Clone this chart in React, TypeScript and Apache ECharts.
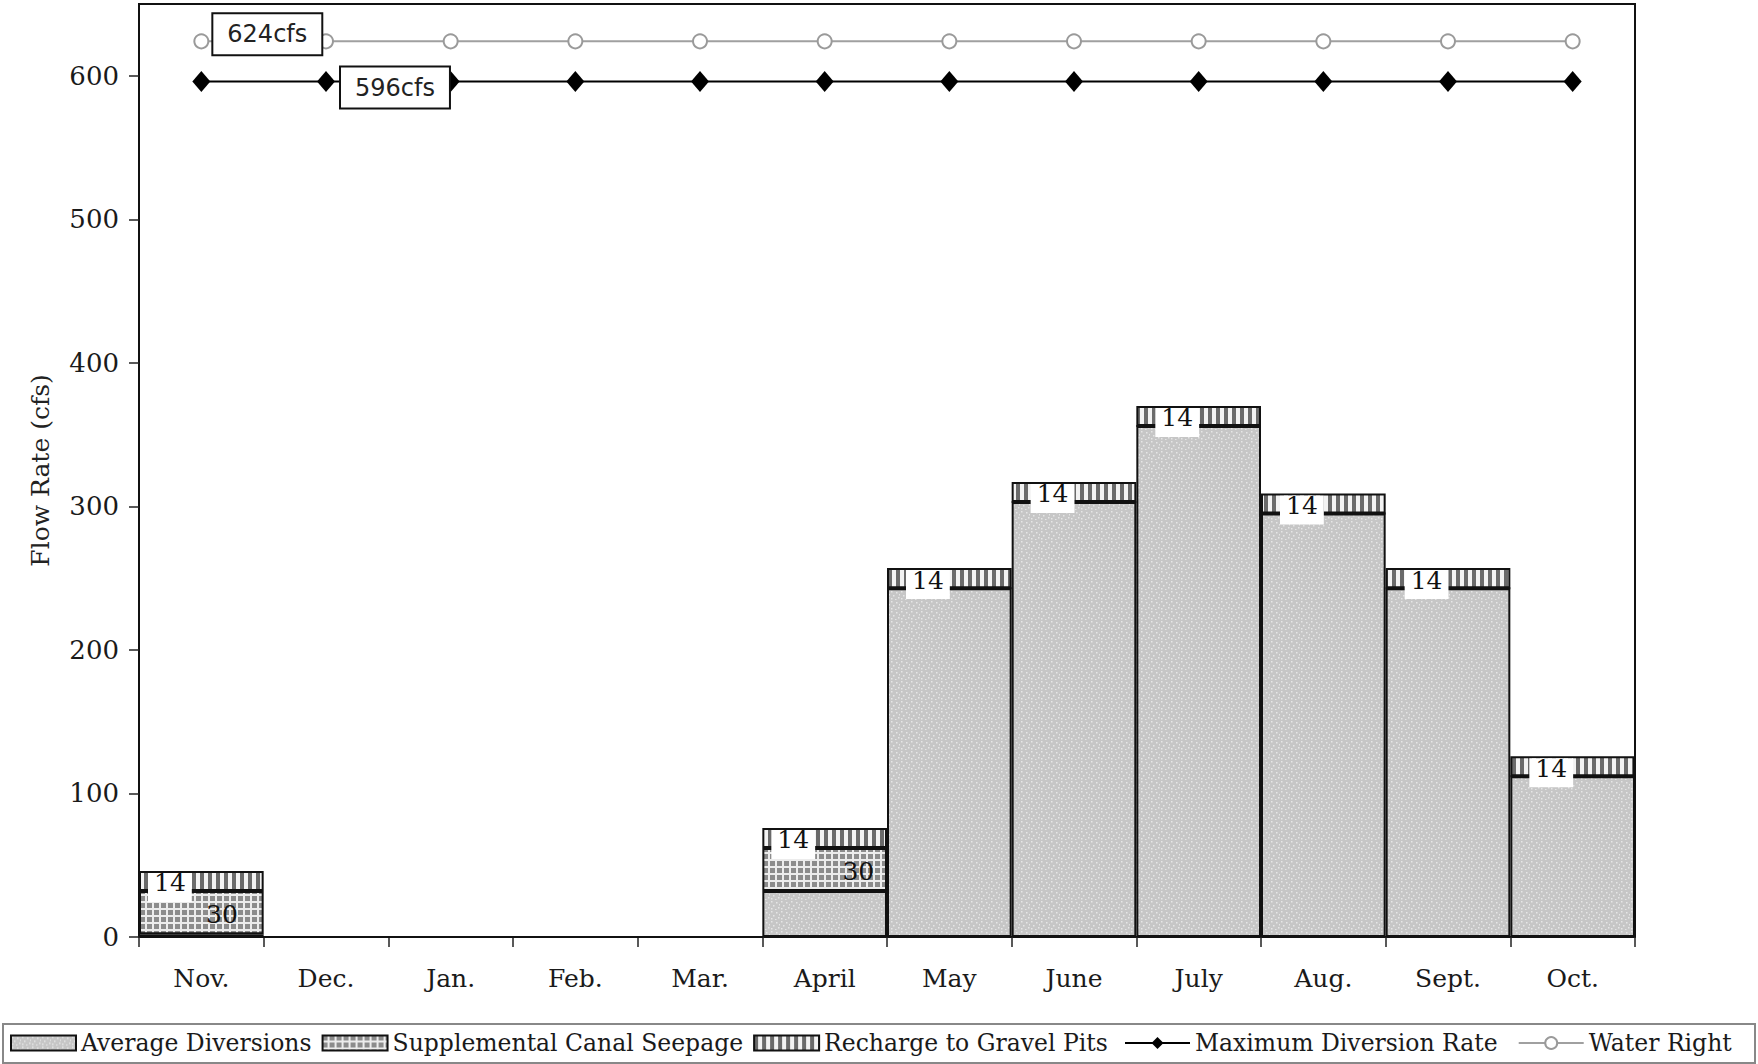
import React, { useEffect, useRef } from 'react';
import * as echarts from 'echarts';

const months = ['Nov.', 'Dec.', 'Jan.', 'Feb.', 'Mar.', 'April', 'May', 'June', 'July', 'Aug.', 'Sept.', 'Oct.'];
const averageDiversions = [2, 0, 0, 0, 0, 32, 243, 303, 356, 295, 243, 112];
const canalSeepage = [30, 0, 0, 0, 0, 30, 0, 0, 0, 0, 0, 0];
const gravelPitRecharge = [14, 0, 0, 0, 0, 14, 14, 14, 14, 14, 14, 14];
const maxDiversionRate = [596, 596, 596, 596, 596, 596, 596, 596, 596, 596, 596, 596];
const waterRight = [624, 624, 624, 624, 624, 624, 624, 624, 624, 624, 624, 624];
const yTicks = [0, 100, 200, 300, 400, 500, 600];

const SERIF = 'DejaVu Serif';
const SANS = 'DejaVu Sans';

function makePattern(w: number, h: number, draw: (ctx: CanvasRenderingContext2D) => void) {
  const c = document.createElement('canvas');
  c.width = w;
  c.height = h;
  const ctx = c.getContext('2d') as CanvasRenderingContext2D;
  draw(ctx);
  return { image: c, repeat: 'repeat', imageWidth: w, imageHeight: h };
}

export default function App() {
  const ref = useRef<HTMLDivElement>(null);

  useEffect(() => {
    if (!ref.current) return;
    const chart = echarts.init(ref.current, null, { renderer: 'svg' });

    const dotted = makePattern(10, 10, (ctx) => {
      ctx.fillStyle = '#c6c6c6';
      ctx.fillRect(0, 0, 10, 10);
      ctx.fillStyle = '#e6e6e6';
      const pts = [[1, 1], [6, 2], [3, 5], [8, 7], [1, 8], [5, 9], [9, 4]];
      pts.forEach(([x, y]) => ctx.fillRect(x, y, 1.5, 1.5));
    });
    const grid = makePattern(7, 7, (ctx) => {
      ctx.fillStyle = '#ececec';
      ctx.fillRect(0, 0, 7, 7);
      ctx.fillStyle = '#8c8c8c';
      ctx.fillRect(0, 0, 5, 5);
    });
    const stripes = makePattern(8, 4, (ctx) => {
      ctx.fillStyle = '#f2f2f2';
      ctx.fillRect(0, 0, 8, 4);
      ctx.fillStyle = '#6a6a6a';
      ctx.fillRect(0, 0, 4, 4);
    });

    const barBorder = { borderColor: '#111', borderWidth: 2 };
    const legendText = { fontFamily: SERIF, fontSize: 23.5, color: '#1a1a1a' };

    const option: any = {
      animation: false,
      backgroundColor: '#fff',
      grid: {
        left: 139, top: 4, width: 1496, height: 933,
        show: true, borderColor: '#111', borderWidth: 2, backgroundColor: 'transparent',
      },
      xAxis: {
        type: 'category',
        data: months,
        boundaryGap: true,
        axisLine: { lineStyle: { color: '#111', width: 2 } },
        axisTick: { show: true, length: 10, lineStyle: { color: '#222', width: 1.5 } },
        axisLabel: { fontFamily: SERIF, fontSize: 25, color: '#1a1a1a', margin: 29 },
        splitLine: { show: false },
      },
      yAxis: {
        type: 'value',
        min: 0,
        max: 650,
        name: 'Flow Rate (cfs)',
        nameLocation: 'middle',
        nameGap: 86,
        nameTextStyle: { fontFamily: SERIF, fontSize: 25, color: '#222' },
        axisLine: { show: true, lineStyle: { color: '#111', width: 2 } },
        axisTick: { show: true, length: 10, customValues: yTicks, lineStyle: { color: '#222', width: 1.5 } },
        axisLabel: { customValues: yTicks, fontFamily: SERIF, fontSize: 26, color: '#1a1a1a', margin: 20 },
        splitLine: { show: false },
      },
      legend: [
        {
          left: 10,
          top: 1031,
          padding: 0,
          itemWidth: 65,
          itemHeight: 15,
          itemGap: 10,
          textStyle: legendText,
          data: [
            { name: 'Average Diversions', icon: 'rect' },
            { name: 'Supplemental Canal Seepage', icon: 'rect' },
            { name: 'Recharge to Gravel Pits', icon: 'rect' },
          ],
        },
        {
          left: 1124,
          top: 1031,
          padding: 0,
          itemWidth: 65,
          itemHeight: 15,
          itemGap: 20,
          textStyle: legendText,
          data: ['Maximum Diversion Rate', 'Water Right'],
        },
      ],
      graphic: [
        {
          type: 'rect',
          shape: { x: 3, y: 1024, width: 1752, height: 39 },
          style: { fill: 'none', stroke: '#888', lineWidth: 2 },
          silent: true,
        },
      ],
      series: [
        {
          name: 'Average Diversions',
          type: 'bar',
          stack: 'flow',
          barCategoryGap: '0%',
          itemStyle: { color: dotted, ...barBorder },
          data: averageDiversions,
        },
        {
          name: 'Supplemental Canal Seepage',
          type: 'bar',
          stack: 'flow',
          barCategoryGap: '0%',
          itemStyle: { color: grid, ...barBorder },
          data: canalSeepage.map((v, i) => ({
            value: v,
            label: {
              show: v > 0,
              position: [i === 0 ? 83 : 96, 23],
              align: 'center',
              verticalAlign: 'middle',
              fontFamily: SERIF,
              fontSize: 25,
              color: '#111',
            },
          })),
        },
        {
          name: 'Recharge to Gravel Pits',
          type: 'bar',
          stack: 'flow',
          barCategoryGap: '0%',
          itemStyle: { color: stripes, ...barBorder },
          data: gravelPitRecharge.map((v, i) => ({
            value: v,
            label: {
              show: v > 0,
              position: [(canalSeepage[i] > 0 ? 31 : 41) - 22, 2],
              align: 'left',
              verticalAlign: 'top',
              fontFamily: SERIF,
              fontSize: 25,
              lineHeight: 20,
              color: '#111',
              backgroundColor: '#fff',
              padding: [0, 6, 9, 6],
            },
          })),
        },
        {
          name: 'Maximum Diversion Rate',
          type: 'line',
          symbol: 'diamond',
          symbolSize: [18, 21],
          itemStyle: { color: '#000' },
          lineStyle: { color: '#000', width: 2 },
          z: 5,
          data: maxDiversionRate.map((v, i) => (i === 1 ? {
            value: v,
            label: {
              show: true,
              position: 'right',
              distance: 6,
              offset: [0, 6],
              formatter: (p: any) => `${p.value}cfs`,
              fontFamily: SANS,
              fontSize: 24,
              lineHeight: 26,
              color: '#222',
              backgroundColor: '#fff',
              borderColor: '#111',
              borderWidth: 2,
              padding: [7, 14],
            },
          } : v)),
        },
        {
          name: 'Water Right',
          type: 'line',
          symbol: 'emptyCircle',
          symbolSize: 14,
          itemStyle: { color: '#9a9a9a', borderWidth: 1.5 },
          lineStyle: { color: '#a0a0a0', width: 2 },
          z: 5,
          data: waterRight.map((v, i) => (i === 0 ? {
            value: v,
            label: {
              show: true,
              position: 'right',
              distance: 4,
              offset: [0, -7],
              formatter: (p: any) => `${p.value}cfs`,
              fontFamily: SANS,
              fontSize: 24,
              lineHeight: 26,
              color: '#222',
              backgroundColor: '#fff',
              borderColor: '#111',
              borderWidth: 2,
              padding: [7, 14],
            },
          } : v)),
        },
      ],
    };

    chart.setOption(option);
    return () => chart.dispose();
  }, []);

  return (
    <div
      ref={ref}
      style={{ position: 'absolute', left: 0, top: 0, width: 1758, height: 1064, background: '#fff' }}
    />
  );
}
